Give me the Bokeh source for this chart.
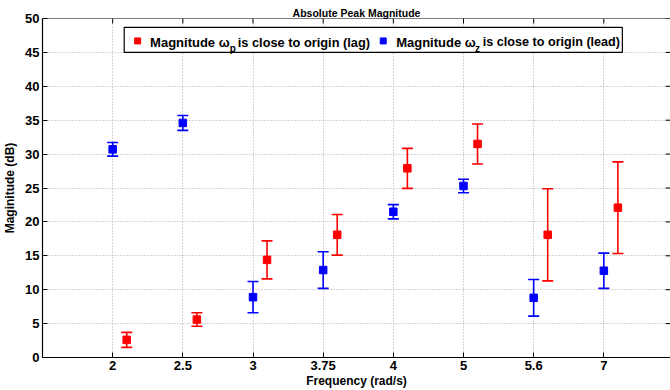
import numpy as np
from bokeh.plotting import figure
from bokeh.models import (Whisker, ColumnDataSource, FixedTicker, Span,
                          Range1d, Label, BoxAnnotation, TeeHead)
from bokeh.embed import file_html
from bokeh.resources import INLINE

# ---- data ----
freq_labels = ["2", "2.5", "3", "3.75", "4", "5", "5.6", "7"]
lag_mag = [2.6, 5.6, 14.4, 18.1, 27.9, 31.5, 18.1, 22.1]
lag_err = [1.1, 1.0, 2.8, 3.0, 2.95, 2.95, 6.8, 6.75]
lead_mag = [30.7, 34.6, 8.9, 12.9, 21.5, 25.3, 8.8, 12.8]
lead_err = [1.0, 1.1, 2.3, 2.7, 1.05, 1.0, 2.7, 2.6]
y_ticks = [0, 5, 10, 15, 20, 25, 30, 35, 40, 45, 50]

RED = "#ff0000"
BLUE = "#0000ff"
FONT = "Liberation Sans"

X0, X1, Y0, Y1 = 0, 8.95, 0, 50
xs = np.arange(1, len(freq_labels) + 1)
lag_x = xs + 0.2

p = figure(width=670, height=390, x_range=Range1d(X0, X1), y_range=Range1d(Y0, Y1),
           output_backend="svg", toolbar_location=None,
           min_border_left=40, min_border_right=0, min_border_top=18, min_border_bottom=32,
           title="Absolute Peak Magnitude")
p.background_fill_color = "white"
p.border_fill_color = "white"
p.outline_line_color = None

p.title.align = "center"
p.title.text_font = FONT
p.title.text_font_size = "10.5px"
p.title.text_font_style = "bold"
p.title.text_color = "black"
p.title.standoff = 0
p.title.offset = 0

xt = FixedTicker(ticks=list(xs))
yt = FixedTicker(ticks=y_ticks)

xa = p.xaxis[0]
xa.ticker = xt
xa.major_label_overrides = {int(i): lab for i, lab in zip(xs, freq_labels)}
ya = p.yaxis[0]
ya.ticker = yt
for ax in (xa, ya):
    ax.axis_line_color = "black"
    ax.axis_line_width = 1.2
    ax.major_tick_in = 5
    ax.major_tick_out = 0
    ax.minor_tick_line_color = None
    ax.major_tick_line_color = "black"
    ax.major_label_text_font = FONT
    ax.major_label_text_font_style = "bold"
    ax.major_label_text_font_size = "13px"
    ax.major_label_text_color = "black"
    ax.axis_label_text_font = FONT
    ax.axis_label_text_font_style = "bold"
    ax.axis_label_text_font_size = "12px"
    ax.axis_label_text_color = "black"
xa.axis_label = "Frequency (rad/s)"
ya.axis_label = "Maginitude (dB)"
xa.major_label_standoff = 3
xa.axis_label_standoff = 1
ya.major_label_standoff = 3
ya.axis_label_standoff = 5

p.xgrid.ticker = xt
p.ygrid.ticker = yt
p.grid.grid_line_color = "#aaaaaa"
p.grid.grid_line_dash = "1 2"
p.grid.grid_line_width = 1

# top frame line and inward ticks on top / right sides
p.add_layout(Span(location=Y1, dimension="width", line_color="black", line_width=1.2))
tick_y = 5 / 6.8
tick_x = 5 / 70.43
p.segment(x0=xs, y0=[Y1] * len(xs), x1=xs, y1=[Y1 - tick_y] * len(xs),
          line_color="black", line_width=1)
p.segment(x0=[X1 - tick_x] * len(y_ticks), y0=y_ticks, x1=[X1] * len(y_ticks), y1=y_ticks,
          line_color="black", line_width=1)

# error bars + markers
for x, m, e, c in ((lag_x, lag_mag, lag_err, RED), (xs, lead_mag, lead_err, BLUE)):
    m = np.array(m)
    e = np.array(e)
    src = ColumnDataSource(dict(x=x, y=m, upper=m + e, lower=m - e))
    w = Whisker(source=src, base="x", upper="upper", lower="lower",
                line_color=c, line_width=1.6,
                upper_head=TeeHead(size=11, line_color=c, line_width=1.6),
                lower_head=TeeHead(size=11, line_color=c, line_width=1.6))
    p.add_layout(w)
    p.scatter("x", "y", source=src, marker="square", size=7.5, color=c)

# manual legend (with subscripts)
def dx(px):
    return (px - 40) / 70.43

def dy(py):
    return (358 - py) / 6.8

p.add_layout(BoxAnnotation(left=dx(122), right=dx(622), top=dy(27), bottom=dy(52),
                           fill_color="white", fill_alpha=1, line_color="black",
                           line_width=1.2, line_alpha=1))
for cx, c in ((135.5, RED), (382, BLUE)):
    p.add_layout(BoxAnnotation(left=dx(cx - 3), right=dx(cx + 3), top=dy(37.5), bottom=dy(43.5),
                               fill_color=c, fill_alpha=1, line_color=c, line_alpha=1))

def lab(px, py, text, size):
    p.add_layout(Label(x=dx(px), y=dy(py), text=text, text_font=FONT,
                       text_font_style="bold", text_font_size=size,
                       text_baseline="alphabetic", text_color="black"))

lab(148, 42, "Magnitude \u03c9", "13px")
lab(228, 48.5, "p", "10px")
lab(236, 42, "is close to origin (lag)", "12.8px")
lab(395, 42, "Magnitude \u03c9", "13px")
lab(474, 48.5, "z", "10px")
lab(482, 42, "is close to origin (lead)", "12.6px")

open("out.html", "w").write(file_html(p, INLINE))
